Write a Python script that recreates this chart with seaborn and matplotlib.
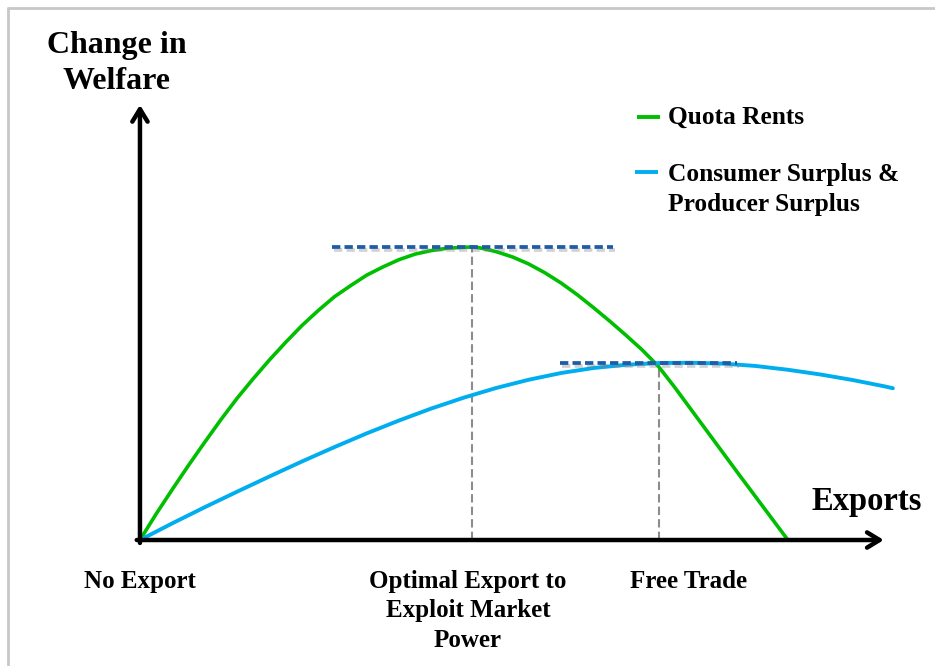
import numpy as np
import pandas as pd
import matplotlib
matplotlib.use("Agg")
import matplotlib.pyplot as plt
import matplotlib.patheffects as pe
from matplotlib.lines import Line2D
import seaborn as sns

# ── data ──────────────────────────────────────────────────────────────────────
exports = [0.0, 0.25, 0.5, 0.75, 1.0, 1.25, 1.5, 1.75, 2.0, 2.25, 2.5, 2.75,
           3.0, 3.25, 3.5, 3.75, 4.0, 4.25, 4.5, 4.75, 5.0, 5.12, 5.25, 5.5,
           5.75, 6.0, 6.25, 6.5, 6.75, 7.0, 7.25, 7.5, 7.75, 8.0, 8.25, 8.5,
           8.75, 9.0, 9.25, 9.5, 9.75, 10.0]
quota_rents = [0.00, 0.89, 1.73, 2.55, 3.34, 4.11, 4.84, 5.51, 6.15, 6.75,
               7.32, 7.83, 8.30, 8.68, 9.04, 9.32, 9.57, 9.76, 9.88, 9.96,
               9.99, 10.00, 9.97, 9.84, 9.66, 9.42, 9.12, 8.77, 8.37, 7.93,
               7.47, 6.99, 6.49, 5.93, 5.22, 4.47, 3.72, 2.97, 2.22, 1.48,
               0.74, 0.00]

exports_cs = [0.0, 0.5, 1.0, 1.5, 2.0, 2.5, 3.0, 3.5, 4.0, 4.5, 5.0, 5.5,
              6.0, 6.5, 7.0, 7.5, 8.0, 8.5, 9.0, 9.5, 10.0, 10.5, 11.0,
              11.5, 11.62]
cs_ps = [0.00, 0.57, 1.12, 1.65, 2.17, 2.68, 3.17, 3.64, 4.08, 4.49, 4.86,
         5.19, 5.47, 5.70, 5.87, 5.98, 6.04, 6.05, 6.02, 5.94, 5.81, 5.65,
         5.46, 5.24, 5.18]

peak_x = [5.12, 8.01]            # optimal export, free trade
peak_y = [10.0, 6.04]            # max quota rents, max CS+PS
guide_start = [2.96, 6.48]       # horizontal dashed guides
guide_end = [7.30, 9.21]

tick_x = [0.0, 5.06, 8.46]
tick_labels = ["No Export", "Optimal Export to\nExploit Market\nPower", "Free Trade"]

series_names = ["Quota Rents", "Consumer Surplus &\nProducer Surplus"]

GREEN = "#00bf00"
BLUE = "#00aeef"
DARK_BLUE = "#1f5ca8"
GRAY = "#8c8c8c"

sns.set_style("white")
plt.rcParams["font.family"] = ["Liberation Serif", "DejaVu Serif"]
plt.rcParams["lines.scale_dashes"] = False
plt.rcParams["text.color"] = "black"

df_q = pd.DataFrame({"x": exports, "y": quota_rents})
df_c = pd.DataFrame({"x": exports_cs, "y": cs_ps})

fig = plt.figure(figsize=(9.35, 6.66), dpi=100)
ax = fig.add_axes([0, 0, 1, 1])
ax.set_xlim(-2.16, 12.27)
ax.set_ylim(-4.30, 18.43)
ax.axis("off")

# gray frame (top + left)
fig.add_artist(Line2D([8 / 935, 1], [1 - 8 / 666, 1 - 8 / 666],
                      color="#c8c8c8", lw=2, transform=fig.transFigure))
fig.add_artist(Line2D([8 / 935, 8 / 935], [0, 1 - 8 / 666],
                      color="#c8c8c8", lw=2, transform=fig.transFigure))

# guide lines
for px, py in zip(peak_x, peak_y):
    ax.plot([px, px], [0, py], color=GRAY, lw=1.5, ls=(0, (6, 3)), zorder=2)
shadow = [pe.SimpleLineShadow(offset=(1.5, -1.8), shadow_color="gray", alpha=0.35),
          pe.Normal()]
for x0, x1, py in zip(guide_start, guide_end, peak_y):
    ax.plot([x0, x1], [py, py], color=DARK_BLUE, lw=2.7, ls=(0, (6, 3)),
            zorder=4, path_effects=shadow)

# curves
sns.lineplot(data=df_q, x="x", y="y", ax=ax, color=GREEN, lw=2.6,
             sort=False, zorder=3, legend=False)
sns.lineplot(data=df_c, x="x", y="y", ax=ax, color=BLUE, lw=2.8,
             sort=False, zorder=3, legend=False)

# axes with arrows
arrow = dict(arrowstyle="->,head_length=0.9,head_width=0.55", lw=3.2,
             color="black", shrinkA=0, shrinkB=0)
ax.annotate("", xy=(11.48, 0), xytext=(-0.05, 0), arrowprops=arrow, zorder=5)
ax.annotate("", xy=(0, 14.85), xytext=(0, -0.1), arrowprops=arrow, zorder=5)

bold = dict(fontweight="bold", color="black")
ax.text(-0.355, 16.26, "Change in\nWelfare", ha="center", va="center",
        fontsize=23, linespacing=1.3, **bold)
ax.text(11.22, 1.30, "Exports", ha="center", va="center", fontsize=23.5, **bold)
for tx, lab in zip(tick_x, tick_labels):
    ax.text(tx, -1.03, lab, ha="center", va="top", fontsize=18,
            linespacing=1.35, **bold)

# legend, drawn by hand so the key sits on the first text line
key_x = [(7.67, 8.02), (7.64, 7.99)]
key_y = [14.44, 12.56]
text_y = [14.47, 12.52]
for (k0, k1), ky, ty, name, col in zip(key_x, key_y, text_y, series_names,
                                       [GREEN, BLUE]):
    ax.plot([k0, k1], [ky, ky], color=col, lw=2.8, solid_capstyle="butt")
    ax.text(8.15, ty + 0.35, name, ha="left", va="top", fontsize=18.3,
            linespacing=1.42, **bold)

fig.savefig("out.png", dpi=100)
